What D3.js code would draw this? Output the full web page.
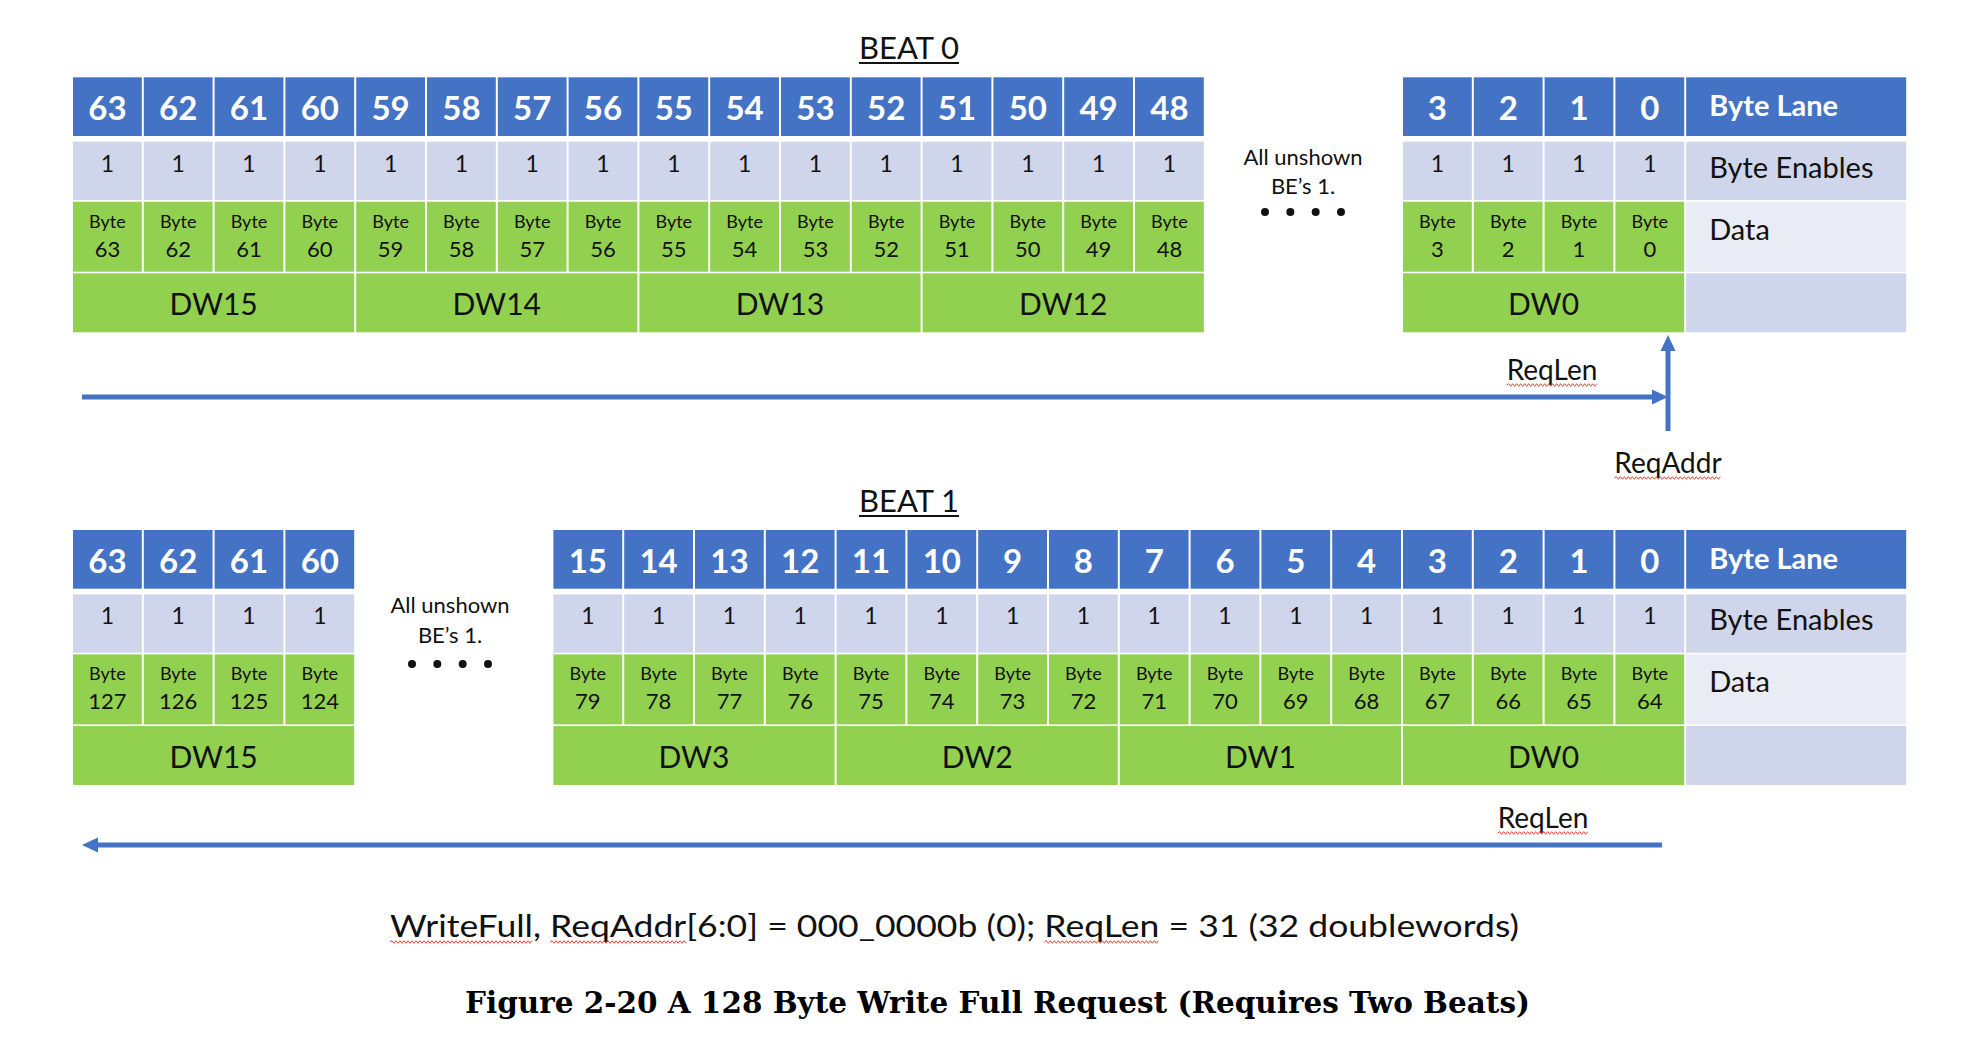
<!DOCTYPE html>
<html>
<head>
<meta charset="utf-8">
<script src="https://cdn.jsdelivr.net/npm/d3@7"></script>
<style>
  html, body { margin: 0; padding: 0; background: #fff; }
  svg { display: block; font-family: Lato, "Open Sans", sans-serif; }
</style>
</head>
<body>
<div id="chart"></div>
<script>
// 1: DATA
const beat0LeftLanes = [63, 62, 61, 60, 59, 58, 57, 56, 55, 54, 53, 52, 51, 50, 49, 48];
const beat0RightLanes = [3, 2, 1, 0];
const beat0LeftBytes = [63, 62, 61, 60, 59, 58, 57, 56, 55, 54, 53, 52, 51, 50, 49, 48];
const beat0RightBytes = [3, 2, 1, 0];
const beat0LeftDW = ["DW15", "DW14", "DW13", "DW12"];
const beat0RightDW = ["DW0"];

const beat1LeftLanes = [63, 62, 61, 60];
const beat1RightLanes = [15, 14, 13, 12, 11, 10, 9, 8, 7, 6, 5, 4, 3, 2, 1, 0];
const beat1LeftBytes = [127, 126, 125, 124];
const beat1RightBytes = [79, 78, 77, 76, 75, 74, 73, 72, 71, 70, 69, 68, 67, 66, 65, 64];
const beat1LeftDW = ["DW15"];
const beat1RightDW = ["DW3", "DW2", "DW1", "DW0"];

const byteEnable = "1";
const rowLabels = ["Byte Lane", "Byte Enables", "Data", ""];
const beatTitles = ["BEAT 0", "BEAT 1"];
const unshownNote = ["All unshown", "BE\u2019s 1."];
const captionText = "WriteFull, ReqAddr[6:0] = 000_0000b (0); ReqLen = 31 (32 doublewords)";
const figureTitle = "Figure 2-20 A 128 Byte Write Full Request (Requires Two Beats)";

// 2: LAYOUT
const W = 1972, H = 1042;
const colW = 70.8;
const labelW = 220;
const labelX = 1402 + 4 * colW; // label column lines up for both beats
const blue = "#4472C4", beFill = "#CFD5EA", green = "#92D050", dataLabelFill = "#E9EBF5";
const rows = [
    { y: 0, h: 58.7 },      // byte lane
    { y: 64.4, h: 58.3 },   // byte enables
    { y: 124.4, h: 70 },    // data
    { y: 196, h: 59 }       // dw
];

const svg = d3.select("#chart")
    .append("svg")
    .attr("width", W)
    .attr("height", H);

// draws one block of byte lanes starting at x0
function drawBlock(g, x0, lanes, bytes, dws) {
    const n = lanes.length;
    const x = d3.scaleLinear().domain([0, n]).range([x0, x0 + n * colW]);

    // byte lane header
    g.selectAll(null).data(lanes).enter().append("rect")
        .attr("x", (d, i) => x(i) + 1).attr("y", rows[0].y)
        .attr("width", colW - 2).attr("height", rows[0].h)
        .attr("fill", blue);
    g.selectAll(null).data(lanes).enter().append("text")
        .attr("x", (d, i) => x(i + 0.5)).attr("y", rows[0].y + 43)
        .attr("text-anchor", "middle")
        .attr("font-size", 33).attr("font-weight", "bold").attr("fill", "#fff")
        .text(d => d);

    // byte enables
    g.selectAll(null).data(lanes).enter().append("rect")
        .attr("x", (d, i) => x(i) + 1).attr("y", rows[1].y)
        .attr("width", colW - 2).attr("height", rows[1].h)
        .attr("fill", beFill);
    g.selectAll(null).data(lanes).enter().append("text")
        .attr("x", (d, i) => x(i + 0.5)).attr("y", rows[1].y + 30)
        .attr("text-anchor", "middle")
        .attr("font-size", 23).attr("fill", "#111")
        .text(byteEnable);

    // data bytes
    g.selectAll(null).data(bytes).enter().append("rect")
        .attr("x", (d, i) => x(i) + 1).attr("y", rows[2].y)
        .attr("width", colW - 2).attr("height", rows[2].h)
        .attr("fill", green);
    const bt = g.selectAll(null).data(bytes).enter().append("text")
        .attr("text-anchor", "middle")
        .attr("fill", "#111");
    bt.append("tspan")
        .attr("x", (d, i) => x(i + 0.5)).attr("y", rows[2].y + 26)
        .attr("font-size", 18)
        .text("Byte");
    bt.append("tspan")
        .attr("x", (d, i) => x(i + 0.5)).attr("y", rows[2].y + 55)
        .attr("font-size", 22)
        .text(d => d);

    // doublewords (4 lanes each)
    g.selectAll(null).data(dws).enter().append("rect")
        .attr("x", (d, i) => x(i * 4) + 1).attr("y", rows[3].y)
        .attr("width", 4 * colW - 2).attr("height", rows[3].h)
        .attr("fill", green);
    g.selectAll(null).data(dws).enter().append("text")
        .attr("x", (d, i) => x(i * 4 + 2)).attr("y", rows[3].y + 41.5)
        .attr("text-anchor", "middle")
        .attr("font-size", 30).attr("fill", "#111")
        .text(d => d);

    return x(n);
}

function drawLabels(g, x0) {
    const fills = [blue, beFill, dataLabelFill, beFill];
    const baselines = [39, 36, 38, 0];
    g.selectAll(null).data(rowLabels).enter().append("rect")
        .attr("x", x0 + 1).attr("y", (d, i) => rows[i].y)
        .attr("width", labelW).attr("height", (d, i) => rows[i].h)
        .attr("fill", (d, i) => fills[i]);
    g.selectAll(null).data(rowLabels).enter().append("text")
        .attr("x", x0 + 24).attr("y", (d, i) => rows[i].y + baselines[i])
        .attr("font-size", 29)
        .attr("font-weight", (d, i) => i === 0 ? "bold" : "normal")
        .attr("fill", (d, i) => i === 0 ? "#fff" : "#111")
        .text(d => d);
}

function drawNote(cx, y1, y2, yDots) {
    svg.append("text").attr("x", cx).attr("y", y1)
        .attr("text-anchor", "middle").attr("font-size", 22).attr("fill", "#111")
        .text(unshownNote[0]);
    svg.append("text").attr("x", cx).attr("y", y2)
        .attr("text-anchor", "middle").attr("font-size", 22).attr("fill", "#111")
        .text(unshownNote[1]);
    const dx = d3.scaleLinear().domain([0, 3]).range([cx - 38, cx + 38]);
    svg.selectAll(null).data([0, 1, 2, 3]).enter().append("circle")
        .attr("cx", d => dx(d)).attr("cy", yDots).attr("r", 4)
        .attr("fill", "#111");
}

function squiggle(x1, x2, y) {
    let p = `M${x1},${y}`;
    let up = true;
    for (let x = x1 + 2; x <= x2; x += 2) {
        p += `L${x},${y + (up ? -1.3 : 1.3)}`;
        up = !up;
    }
    svg.append("path").attr("d", p)
        .attr("fill", "none").attr("stroke", "#e0403a").attr("stroke-width", 1);
}

function label(text, cx, y, size) {
    const t = svg.append("text").attr("x", cx).attr("y", y)
        .attr("text-anchor", "middle").attr("font-size", size).attr("fill", "#111")
        .text(text);
    return t;
}

function arrow(x1, y1, x2, y2) {
    const ang = Math.atan2(y2 - y1, x2 - x1);
    const hl = 16, hw = 7.5;
    const bx = x2 - hl * Math.cos(ang), by = y2 - hl * Math.sin(ang);
    svg.append("line")
        .attr("x1", x1).attr("y1", y1).attr("x2", bx + 2 * Math.cos(ang)).attr("y2", by + 2 * Math.sin(ang))
        .attr("stroke", blue).attr("stroke-width", 5);
    const px = -Math.sin(ang), py = Math.cos(ang);
    svg.append("path")
        .attr("d", `M${x2},${y2}L${bx + px * hw},${by + py * hw}L${bx - px * hw},${by - py * hw}Z`)
        .attr("fill", blue);
}

// 3: BEAT 0
const g0 = svg.append("g").attr("transform", "translate(0,77.3)");
drawBlock(g0, 72, beat0LeftLanes, beat0LeftBytes, beat0LeftDW);
drawBlock(g0, 1402, beat0RightLanes, beat0RightBytes, beat0RightDW);
drawLabels(g0, labelX);
drawNote(1303, 165, 194, 212);

// 4: BEAT 1
const g1 = svg.append("g").attr("transform", "translate(0,530)");
drawBlock(g1, 72, beat1LeftLanes, beat1LeftBytes, beat1LeftDW);
drawBlock(g1, labelX - 16 * colW, beat1RightLanes, beat1RightBytes, beat1RightDW);
drawLabels(g1, labelX);
drawNote(450, 613, 643, 664);

// 5: TITLES
[[beatTitles[0], 59], [beatTitles[1], 512]].forEach(([t, y]) => {
    const el = label(t, 909, y, 31);
    const bb = el.node().getBBox();
    svg.append("line")
        .attr("x1", bb.x).attr("x2", bb.x + bb.width)
        .attr("y1", y + 4).attr("y2", y + 4)
        .attr("stroke", "#111").attr("stroke-width", 2);
});

// 6: ARROWS AND LABELS
arrow(82, 397, 1668, 397);
arrow(1668, 431, 1668, 335);
arrow(1662, 845, 82, 845);

[["ReqLen", 1552, 380], ["ReqAddr", 1668, 473], ["ReqLen", 1543, 828]].forEach(([t, x, y]) => {
    const el = label(t, x, y, 28);
    const bb = el.node().getBBox();
    squiggle(bb.x, bb.x + bb.width, y + 5);
});

// 7: CAPTION
const cap = svg.append("text")
    .attr("x", 390).attr("y", 937)
    .attr("font-size", 30).attr("fill", "#111")
    .attr("textLength", 1129).attr("lengthAdjust", "spacingAndGlyphs")
    .text(captionText);
[["WriteFull"], ["ReqAddr"], ["ReqLen"]].forEach(([w]) => {
    const i = captionText.indexOf(w);
    const n = cap.node();
    const xa = n.getStartPositionOfChar(i).x;
    const xb = n.getEndPositionOfChar(i + w.length - 1).x;
    squiggle(xa, xb, 942);
});

svg.append("text")
    .attr("x", 465).attr("y", 1013)
    .attr("font-family", "'DejaVu Serif', 'Liberation Serif', serif")
    .attr("font-size", 30).attr("font-weight", "bold").attr("fill", "#000")
    .attr("textLength", 1065).attr("lengthAdjust", "spacingAndGlyphs")
    .text(figureTitle);
</script>
</body>
</html>
